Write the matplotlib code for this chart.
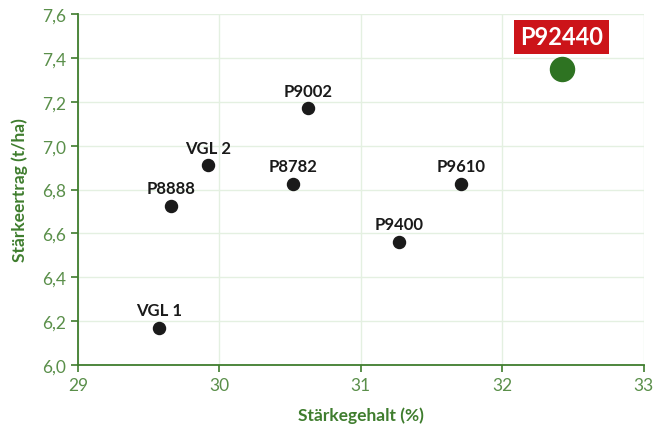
import matplotlib
matplotlib.use("Agg")
import matplotlib.pyplot as plt

# data
names = ["VGL 1", "P8888", "VGL 2", "P8782", "P9002", "P9400", "P9610"]
starch_content = [29.57, 29.66, 29.92, 30.52, 30.63, 31.27, 31.71]
starch_yield = [6.17, 6.725, 6.91, 6.825, 7.17, 6.56, 6.825]

hl_name = "P92440"
hl_x = 32.42
hl_y = 7.35

green = "#3f7d2e"
tick_green = "#5a8f4a"

plt.rcParams["font.family"] = ["Lato", "DejaVu Sans"]

fig = plt.figure(figsize=(6.56, 4.31), dpi=100)
ax = fig.add_axes([0.119, 0.151, 0.862, 0.814])

ax.scatter(starch_content, starch_yield, s=75, color="#1a1a1a", zorder=3)
for n, x, y in zip(names, starch_content, starch_yield):
    ax.annotate(n, (x, y), xytext=(0, 7), textcoords="offset points",
                ha="center", va="bottom", fontsize=12, fontweight="bold",
                color="#1a1a1a")

ax.scatter([hl_x], [hl_y], s=300, color="#2e7322", zorder=3)
ax.annotate(hl_name, (hl_x, hl_y), xytext=(0, 23), textcoords="offset points",
            ha="center", va="center", fontsize=17, fontweight="bold",
            color="white",
            bbox=dict(boxstyle="square,pad=0.25", fc="#cc1419", ec="none"))

ax.set_xlim(29, 33)
ax.set_ylim(6.0, 7.6)
ax.set_xticks([29, 30, 31, 32, 33])
ax.set_yticks([6.0, 6.2, 6.4, 6.6, 6.8, 7.0, 7.2, 7.4, 7.6])
ax.set_yticklabels([f"{v:.1f}".replace(".", ",") for v in ax.get_yticks()])

ax.grid(True, color="#e4f0e1", linewidth=1)
ax.set_axisbelow(True)
for s in ["top", "right"]:
    ax.spines[s].set_visible(False)
for s in ["left", "bottom"]:
    ax.spines[s].set_color(green)
    ax.spines[s].set_linewidth(1.3)
ax.tick_params(colors=green, labelcolor=tick_green, labelsize=12.5, length=5, width=1.2)

ax.set_xlabel("Stärkegehalt (%)", color=green, fontsize=12.5, fontweight="bold", labelpad=10)
ax.set_ylabel("Stärkeertrag (t/ha)", color=green, fontsize=12.5, fontweight="bold", labelpad=10)

fig.savefig("out.png", dpi=100)
